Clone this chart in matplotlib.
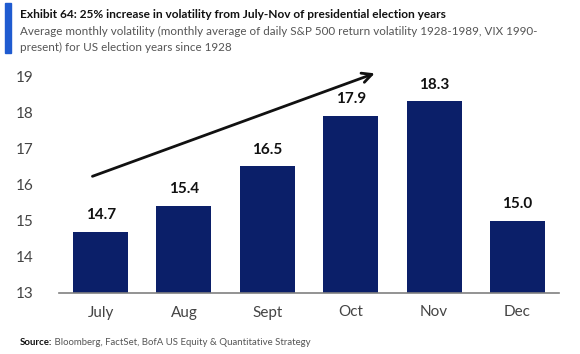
import matplotlib
matplotlib.use("Agg")
import matplotlib.pyplot as plt
from matplotlib.patches import Rectangle

months = ["July", "Aug", "Sept", "Oct", "Nov", "Dec"]
volatility = [14.7, 15.4, 16.5, 17.9, 18.3, 15.0]
yticks = [13, 14, 15, 16, 17, 18, 19]

title = "Exhibit 64: 25% increase in volatility from July-Nov of presidential election years"
subtitle_1 = "Average monthly volatility (monthly average of daily S&P 500 return volatility 1928-1989, VIX 1990-"
subtitle_2 = "present) for US election years since 1928"
source_bold = "Source:"
source_rest = " Bloomberg, FactSet, BofA US Equity & Quantitative Strategy"

W, H = 580, 354
fig = plt.figure(figsize=(W / 100, H / 100), dpi=100)
fam = ["Lato", "DejaVu Sans"]

ax = fig.add_axes([59 / W, 1 - 293 / H, 500 / W, (293 - 76) / H])
x = list(range(len(months)))
bar_color = "#0b1f69"
ax.bar(x, [v - 13 for v in volatility], bottom=13, width=0.66, color=bar_color, zorder=2)
ax.set_xlim(-0.5, len(months) - 0.5)
ax.set_ylim(13, 19)
ax.set_yticks(yticks)
ax.set_yticklabels([str(t) for t in yticks], family=fam, fontsize=11, color="#444444")
ax.set_xticks(x)
ax.set_xticklabels(months, family=fam, fontsize=11, color="#444444")
ax.tick_params(axis="both", length=0)
ax.tick_params(axis="y", pad=18)
ax.tick_params(axis="x", pad=9)
for s in ["top", "right", "left"]:
    ax.spines[s].set_visible(False)
ax.spines["bottom"].set_color("#808080")
ax.spines["bottom"].set_linewidth(1.2)

for xi, v in zip(x, volatility):
    ax.annotate(f"{v:.1f}", (xi, v), xytext=(0, 7), textcoords="offset points",
                ha="center", va="bottom", family=fam, fontsize=11, fontweight="bold", color="#111111")

ax.annotate("", xy=(3.32, 19.1), xytext=(-0.13, 16.2),
            arrowprops=dict(arrowstyle="->,head_length=0.7,head_width=0.35", color="#111111", lw=2.0),
            annotation_clip=False)

# left accent bar
fig.patches.append(Rectangle((5 / W, 1 - 53 / H), 6 / W, 50 / H, transform=fig.transFigure,
                             color="#1f5bd0", zorder=0))
fig.text(20 / W, 1 - 18 / H, title, family=fam, fontsize=8.6, fontweight="bold",
         color="#111111", ha="left", va="baseline")
fig.text(20 / W, 1 - 35 / H, subtitle_1, family=fam, fontsize=8.4, color="#555555",
         ha="left", va="baseline")
fig.text(20 / W, 1 - 51 / H, subtitle_2, family=fam, fontsize=8.4, color="#555555",
         ha="left", va="baseline")
t = fig.text(20 / W, 1 - 345 / H, source_bold, family=fam, fontsize=6.9, fontweight="bold",
             color="#111111", ha="left", va="baseline")
fig.canvas.draw()
bb = t.get_window_extent()
fig.text(bb.x1 / W, 1 - 345 / H, source_rest, family=fam, fontsize=6.9,
         color="#555555", ha="left", va="baseline")

fig.savefig("out.png", dpi=100)
